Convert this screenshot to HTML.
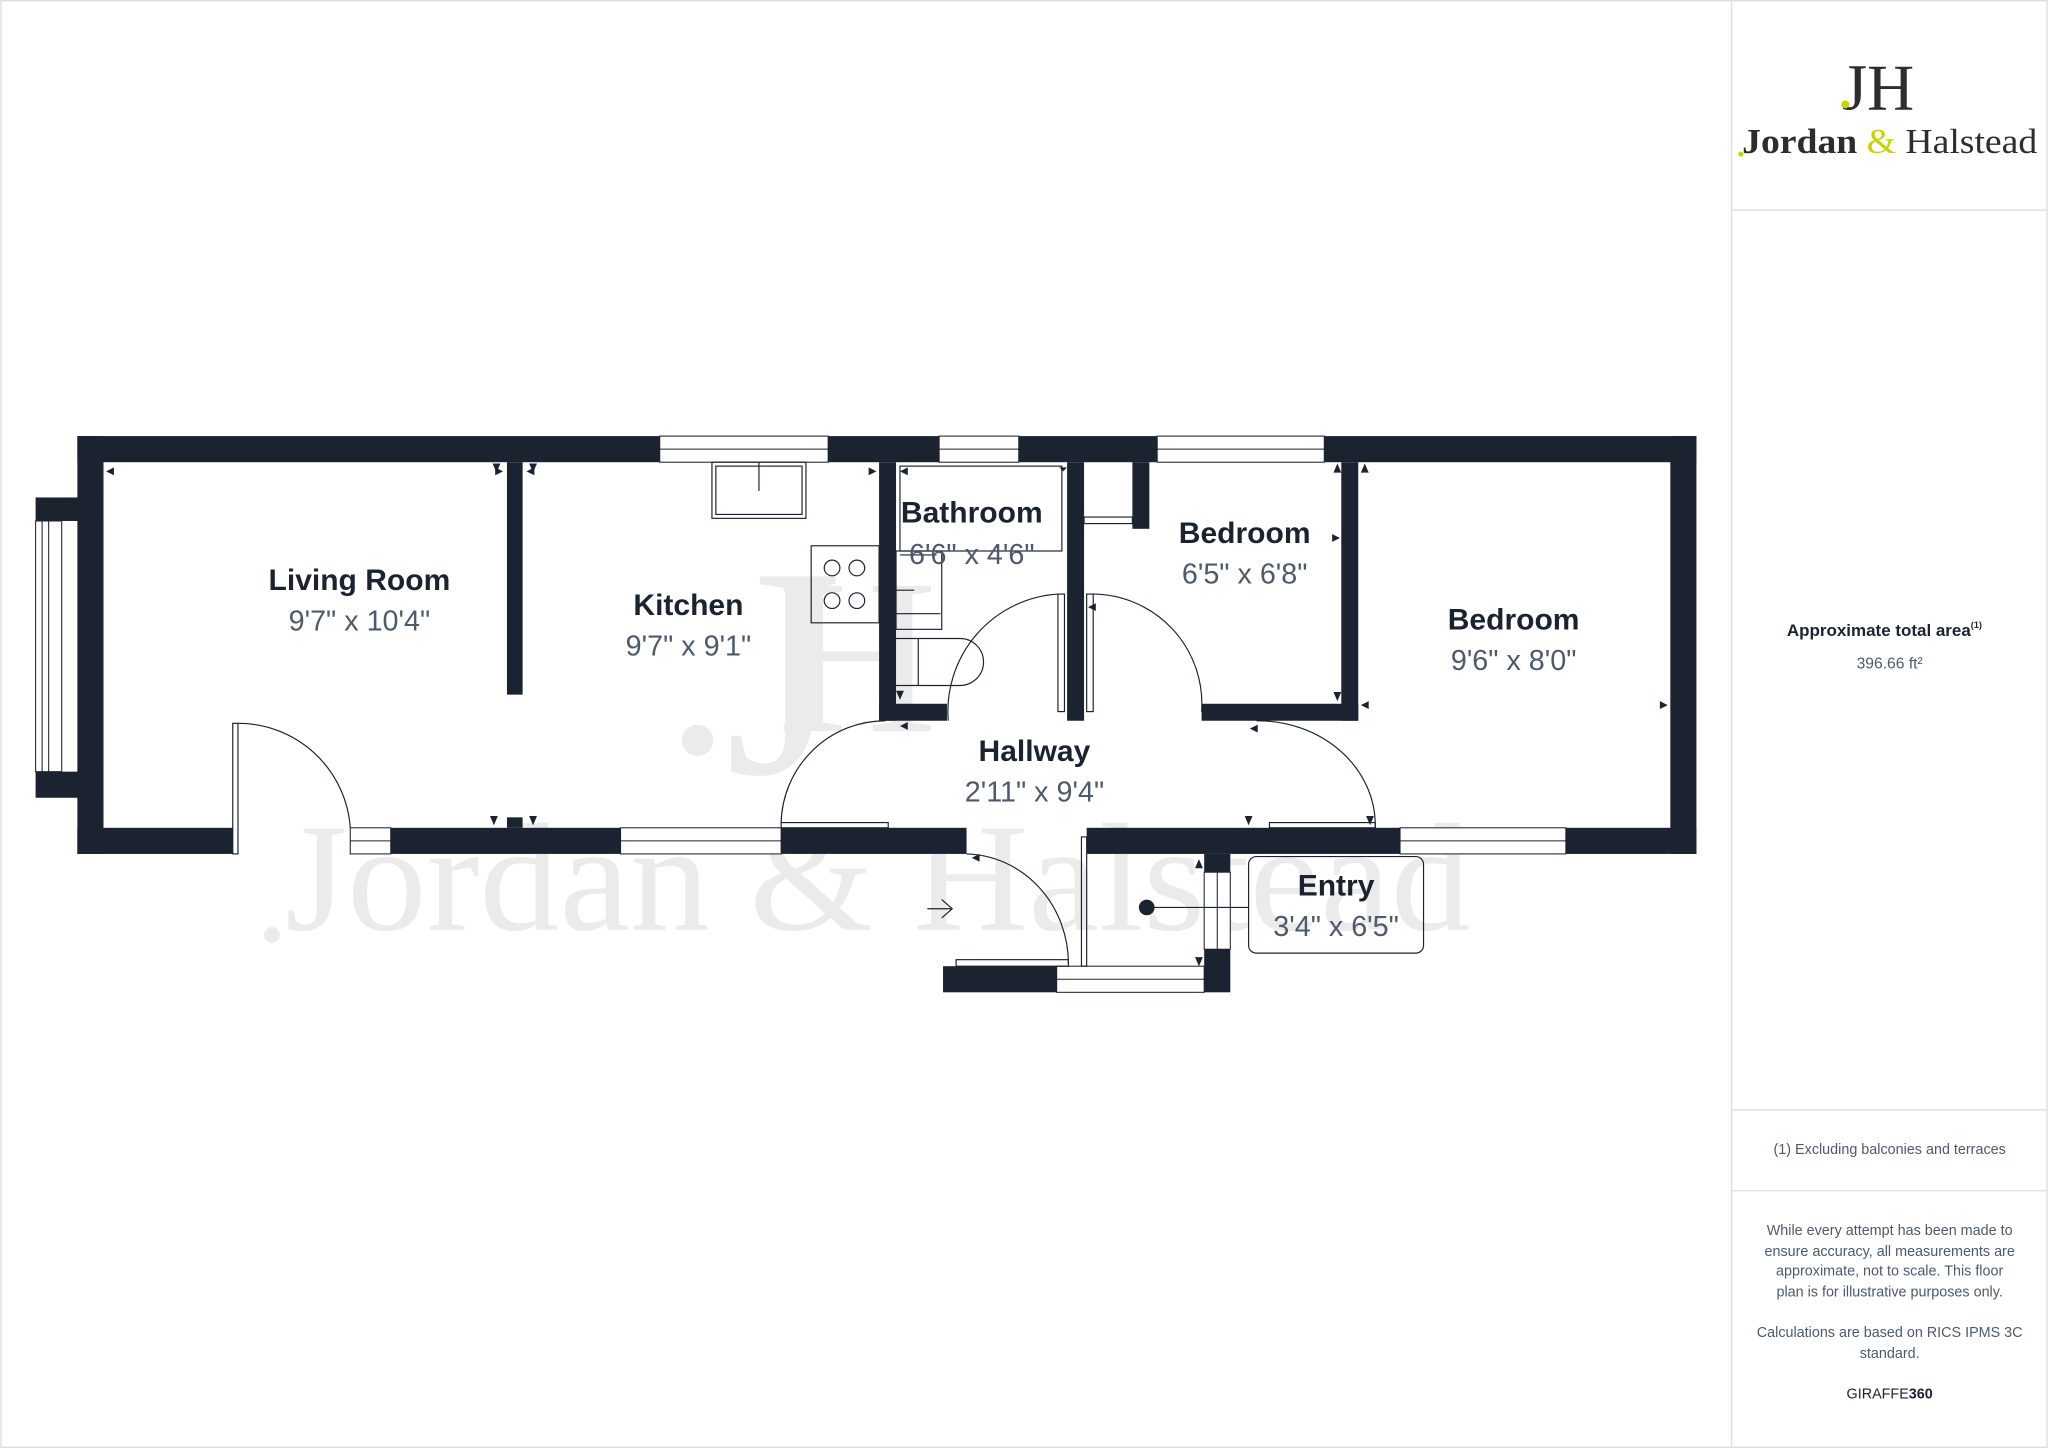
<!DOCTYPE html>
<html><head><meta charset="utf-8"><style>
html,body{margin:0;padding:0;background:#fff;}
svg{display:block;}
</style></head><body>
<svg width="2048" height="1448" viewBox="0 0 1568 1109" xmlns="http://www.w3.org/2000/svg" font-family="Liberation Sans, sans-serif">
<rect x="0.5" y="0.5" width="1567" height="1108" fill="#fff" stroke="#ddd"/>
<line x1="1326" y1="0" x2="1326" y2="1109" stroke="#ddd"/>
<line x1="1326" y1="161" x2="1568" y2="161" stroke="#ddd"/>
<line x1="1326" y1="850" x2="1568" y2="850" stroke="#ddd"/>
<line x1="1326" y1="912" x2="1568" y2="912" stroke="#ddd"/>

<!-- watermark -->
<g fill="#ebebeb" style="font-family:'Liberation Serif',serif">
<text x="555" y="592" font-size="230" style="font-family:'Liberation Serif',serif">J</text>
<text x="595" y="560" font-size="170" style="font-family:'Liberation Serif',serif">H</text>
<circle cx="534" cy="567" r="12"/>
<text x="218" y="712" font-size="118" textLength="908" lengthAdjust="spacingAndGlyphs" style="font-family:'Liberation Serif',serif">Jordan &amp; Halstead</text>
<circle cx="208" cy="716" r="6"/>
</g>

<g fill="#1b2330">
<rect x="59" y="334" width="1240" height="20"/>
<rect x="59" y="334" width="20" height="320"/>
<rect x="27" y="381" width="52" height="18"/>
<rect x="27" y="591" width="52" height="20"/>
<rect x="59" y="634" width="119" height="20"/>
<rect x="299" y="634" width="176" height="20"/>
<rect x="598" y="634" width="142" height="20"/>
<rect x="832" y="634" width="240" height="20"/>
<rect x="1199" y="634" width="100" height="20"/>
<rect x="1279" y="334" width="20" height="320"/>
<rect x="388" y="354" width="12" height="178"/>
<rect x="388" y="626" width="12" height="8"/>
<rect x="673" y="354" width="13" height="198"/>
<rect x="673" y="539" width="52" height="13"/>
<rect x="817" y="354" width="13" height="198"/>
<rect x="867" y="354" width="13" height="51"/>
<rect x="920" y="539" width="120" height="13"/>
<rect x="1027" y="354" width="13" height="198"/>
<rect x="922" y="654" width="20" height="14"/>
<rect x="922" y="727" width="20" height="33"/>
<rect x="722" y="740" width="87" height="20"/>
</g>

<g fill="#fff" stroke="#1b2330" stroke-width="0.8">
<rect x="505" y="334" width="129" height="20"/><line x1="505" y1="344" x2="634" y2="344"/>
<rect x="719" y="334" width="61" height="20"/><line x1="719" y1="344" x2="780" y2="344"/>
<rect x="886" y="334" width="128" height="20"/><line x1="886" y1="344" x2="1014" y2="344"/>
<rect x="27" y="399" width="20" height="192"/><line x1="37" y1="399" x2="37" y2="591"/><line x1="32" y1="399" x2="32" y2="591"/>
<rect x="268" y="634" width="31" height="20"/><line x1="268" y1="644" x2="299" y2="644"/>
<rect x="475" y="634" width="123" height="20"/><line x1="475" y1="644" x2="598" y2="644"/>
<rect x="1072" y="634" width="127" height="20"/><line x1="1072" y1="644" x2="1199" y2="644"/>
<rect x="809" y="740" width="113" height="20"/><line x1="809" y1="750" x2="922" y2="750"/>
<rect x="922" y="668" width="20" height="59"/><line x1="932" y1="668" x2="932" y2="727"/>
</g>

<g fill="none" stroke="#1b2330" stroke-width="0.9">
<rect x="178" y="554" width="4" height="100"/>
<path d="M182 554 A86 86 0 0 1 268 634"/>
<rect x="598" y="630" width="82" height="4"/>
<path d="M598 630 A80 80 0 0 1 678 552"/>
<path d="M726 552 A90 90 0 0 1 810 455"/>
<rect x="810" y="455" width="5" height="90"/>
<rect x="832" y="455" width="5" height="90"/>
<path d="M837 455 A84 84 0 0 1 920 545"/>
<path d="M962 552 A90 80 0 0 1 1053 634"/>
<rect x="972" y="630" width="81" height="4"/>
<path d="M740 654 A80 84 0 0 1 818 738"/>
<rect x="828" y="641" width="4" height="99"/>
<rect x="732" y="735" width="86" height="5"/>
<rect x="545" y="354" width="72" height="43"/>
<rect x="548" y="357" width="66" height="37"/>
<line x1="581" y1="354" x2="581" y2="376"/>
<rect x="621" y="418" width="52" height="59"/>
<circle cx="637" cy="435" r="6"/><circle cx="656" cy="435" r="6"/>
<circle cx="637" cy="460" r="6"/><circle cx="656" cy="460" r="6"/>
<rect x="689" y="357" width="124" height="65"/>
<rect x="686" y="422" width="35" height="60"/>
<line x1="686" y1="470" x2="720" y2="470"/>
<line x1="689" y1="425" x2="717" y2="425"/>
<line x1="686" y1="452" x2="700" y2="452"/>
<path d="M686 489 L735 489 A18 18 0 0 1 735 525 L686 525"/>
<line x1="703" y1="489" x2="703" y2="525"/>
<rect x="830" y="396" width="37" height="5"/>
<rect x="956" y="656" width="134" height="74" rx="6"/>
<line x1="878" y1="695" x2="956" y2="695"/>
<path d="M710 696 L728 696 M721 689 L729 696 L721 703"/>
</g>
<circle cx="878" cy="695" r="6" fill="#1b2330"/>

<g fill="#1b2330">
<path d="M81 361 l6 -3 v6z"/><path d="M380 362 l-3 -7 h6z"/><path d="M385 361 l-6 -3 v6z"/>
<path d="M403 361 l6 -3 v6z"/><path d="M408 362 l-3 -7 h6z"/>
<path d="M671 361 l-6 -3 v6z"/><path d="M689 361 l6 -3 v6z"/>
<path d="M378 632 l-3 -7 h6z"/><path d="M408 632 l-3 -7 h6z"/>
<path d="M814 361 l-3 -3 h6z"/><path d="M833 465 l6 -3 v6z"/>
<path d="M1024 355 l-3 7 h6z"/><path d="M1024 537 l-3 -7 h6z"/><path d="M1026 412 l-6 -3 v6z"/>
<path d="M1045 355 l-3 7 h6z"/><path d="M1042 540 l6 -3 v6z"/><path d="M1277 540 l-6 -3 v6z"/>
<path d="M689 536 l-3 -7 h6z"/><path d="M689 556 l6 -3 v6z"/>
<path d="M956 632 l-3 -7 h6z"/><path d="M1049 632 l-3 -7 h6z"/>
<path d="M957 558 l6 -3 v6z"/><path d="M744 657 l6 -3 v6z"/>
<path d="M918 658 l-3 7 h6z"/><path d="M918 740 l-3 -7 h6z"/>
</g>

<g text-anchor="middle">
<g fill="#1b2330" font-weight="bold" font-size="23">
<text x="275" y="452">Living Room</text>
<text x="527" y="471">Kitchen</text>
<text x="744" y="400">Bathroom</text>
<text x="953" y="416">Bedroom</text>
<text x="1159" y="482">Bedroom</text>
<text x="792" y="583">Hallway</text>
<text x="1023" y="686">Entry</text>
</g>
<g fill="#4d5a6b" font-size="22">
<text x="275" y="483">9'7" x 10'4"</text>
<text x="527" y="502">9'7" x 9'1"</text>
<text x="744" y="432">6'6" x 4'6"</text>
<text x="953" y="447">6'5" x 6'8"</text>
<text x="1159" y="513">9'6" x 8'0"</text>
<text x="792" y="614">2'11" x 9'4"</text>
<text x="1023" y="717">3'4" x 6'5"</text>
</g>
</g>

<g text-anchor="middle">
<text x="1438" y="84" font-size="50" fill="#2d2d2d" style="font-family:'Liberation Serif',serif">JH</text>
<circle cx="1413" cy="80" r="3" fill="#c8d400"/>
<text x="1447" y="117" font-size="27" fill="#2d2d2d" textLength="226" lengthAdjust="spacingAndGlyphs" style="font-family:'Liberation Serif',serif"><tspan font-weight="bold">Jordan</tspan> <tspan fill="#c8d400">&amp;</tspan> Halstead</text>
<circle cx="1333" cy="118" r="2" fill="#c8d400"/>
<text x="1443" y="487" font-size="13" font-weight="bold" fill="#1b2330">Approximate total area<tspan font-size="7" dy="-6">(1)</tspan></text>
<text x="1447" y="512" font-size="12" fill="#4d5a6b">396.66 ft²</text>
<text x="1447" y="884" font-size="11" fill="#4d5a6b">(1) Excluding balconies and terraces</text>
<g font-size="11" fill="#4d5a6b">
<text x="1447" y="946">While every attempt has been made to</text>
<text x="1447" y="962">ensure accuracy, all measurements are</text>
<text x="1447" y="977">approximate, not to scale. This floor</text>
<text x="1447" y="993">plan is for illustrative purposes only.</text>
<text x="1447" y="1024">Calculations are based on RICS IPMS 3C</text>
<text x="1447" y="1040">standard.</text>
</g>
<text x="1447" y="1071" font-size="11" fill="#1b2330">GIRAFFE<tspan font-weight="bold">360</tspan></text>
</g>
</svg>
</body></html>
